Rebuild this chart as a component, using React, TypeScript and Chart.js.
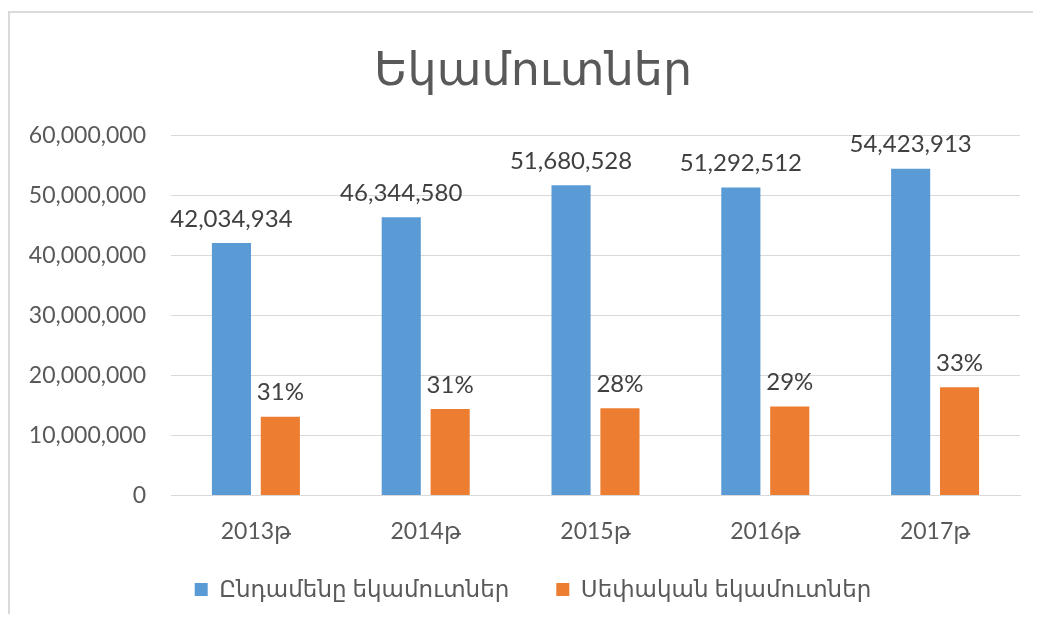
import React, { useEffect, useRef } from "react";
import { Chart, registerables } from "chart.js";

Chart.register(...registerables);

const categories = ["2013թ", "2014թ", "2015թ", "2016թ", "2017թ"];
const totalRevenue = [42034934, 46344580, 51680528, 51292512, 54423913];
const ownRevenue = [13100000, 14400000, 14500000, 14800000, 18000000];
const ownShareLabels = ["31%", "31%", "28%", "29%", "33%"];
const seriesNames = ["Ընդամենը եկամուտներ", "Սեփական եկամուտներ"];
const titleText = "Եկամուտներ";

const NUM_FONT = "Lato, 'DejaVu Sans', sans-serif";
const ARM_FONT = "Lato, 'DejaVu Sans', sans-serif";

const labelPlugin = {
  id: "barLabels",
  afterDatasetsDraw(chart: any) {
    const ctx = chart.ctx;
    ctx.save();
    ctx.fillStyle = "#404040";
    ctx.font = `24px ${NUM_FONT}`;
    ctx.textAlign = "center";
    ctx.textBaseline = "bottom";
    chart.data.datasets.forEach((ds: any, di: number) => {
      const meta = chart.getDatasetMeta(di);
      meta.data.forEach((el: any, i: number) => {
        const txt =
          di === 0
            ? totalRevenue[i].toLocaleString("en-US")
            : ownShareLabels[i];
        ctx.fillText(txt, el.x, el.y - 12);
      });
    });
    ctx.restore();
  },
};

// let the x-axis labels draw below its (shrunk) layout box
const xAxisRoom = {
  id: "xAxisRoom",
  afterLayout(chart: any) {
    const x = chart.scales.x;
    x.bottom += 40;
    x.height += 40;
  },
};

export default function App() {
  const ref = useRef<HTMLCanvasElement>(null);
  useEffect(() => {
    document.body.style.overflow = "hidden";
    const chart = new Chart(ref.current!, {
      type: "bar",
      data: {
        labels: categories,
        datasets: [
          {
            label: seriesNames[0],
            data: totalRevenue,
            backgroundColor: "#5B9BD5",
            barPercentage: 0.8,
            categoryPercentage: 0.576,
          },
          {
            label: seriesNames[1],
            data: ownRevenue,
            backgroundColor: "#ED7D31",
            barPercentage: 0.8,
            categoryPercentage: 0.576,
          },
        ],
      },
      options: {
        responsive: false,
        animation: false,
        layout: { padding: { left: 0, right: 0, top: 0, bottom: 3 } },
        plugins: {
          title: {
            display: true,
            text: titleText,
            color: "#595959",
            font: { family: ARM_FONT, size: 46, weight: "normal" },
            padding: { top: 30, bottom: 37 },
          },
          legend: {
            position: "bottom",
            labels: {
              color: "#595959",
              font: { family: ARM_FONT, size: 23 },
              boxWidth: 13,
              boxHeight: 13,
              padding: 47,
            },
          },
          tooltip: { enabled: false },
        },
        scales: {
          x: {
            grid: { display: false },
            border: { display: true, color: "#d9d9d9" },
            afterFit: (axis: any) => {
              axis.height -= 28;
            },
            ticks: {
              color: "#595959",
              font: { family: NUM_FONT, size: 23 },
              padding: 14,
            },
          },
          y: {
            min: 0,
            max: 60000000,
            grid: { color: "#d9d9d9", drawTicks: false },
            border: { display: false },
            afterFit: (axis: any) => {
              axis.width = 161;
            },
            ticks: {
              stepSize: 10000000,
              color: "#595959",
              font: { family: NUM_FONT, size: 23 },
              padding: 25,
              callback: (v: any) => Number(v).toLocaleString("en-US"),
            },
          },
          yRightSpace: {
            position: "right",
            grid: { display: false },
            border: { display: false },
            ticks: { display: false },
            afterFit: (axis: any) => {
              axis.width = 36;
            },
          },
        },
      },
      plugins: [labelPlugin, xAxisRoom],
    });
    return () => chart.destroy();
  }, []);
  return (
    <div
      style={{
        marginTop: 3,
        width: 1033,
        height: 603,
        borderLeft: "2px solid #d9d9d9",
        borderTop: "2px solid #d9d9d9",
        boxSizing: "border-box",
      }}
    >
      <canvas ref={ref} width={1046} height={601} />
    </div>
  );
}
